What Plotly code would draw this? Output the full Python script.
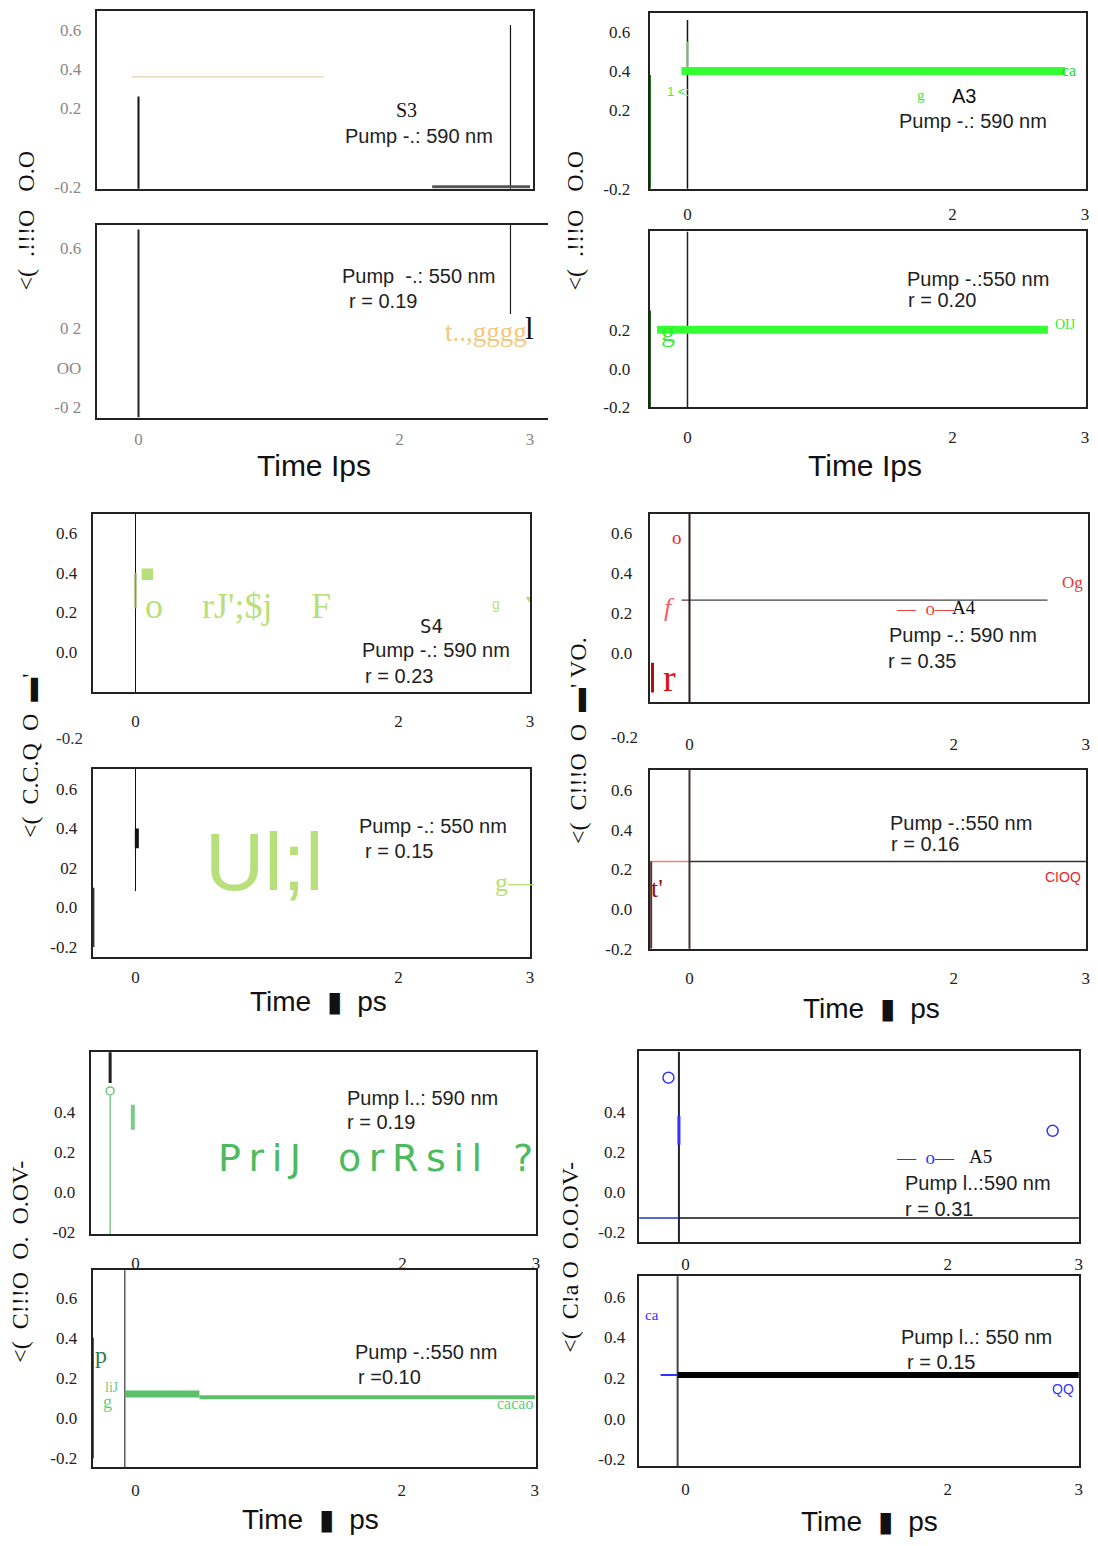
import plotly.graph_objects as go

W, H = 1098, 1546
SERIF = "Liberation Serif"
SANS = "Liberation Sans"

# ---------------- data ----------------
x_ticks = [0, 2, 3]
x_tick_labels = ["0", "2", "3"]

# panel 1 : S3, pump 590 nm
p1_zero_x = [0, 0];          p1_zero_y = [0.26, -0.25]
p1_right_x = [2.85, 2.85];   p1_right_y = [0.625, -0.26]
p1_tan_x = [-0.05, 1.42];    p1_tan_y = [0.36, 0.36]
p1_base_x = [2.25, 3.0];     p1_base_y = [-0.2, -0.2]
p1_yvals = [0.6, 0.4, 0.2, -0.2]; p1_ytext = ["0.6", "0.4", "0.2", "-0.2"]

# panel 2 : S3, pump 550 nm
p2_zero_x = [0, 0];          p2_zero_y = [0.695, -0.25]
p2_right_x = [2.85, 2.85];   p2_right_y = [0.72, 0.27]
p2_yvals = [0.6, 0.2, 0.0, -0.2]; p2_ytext = ["0.6", "0 2", "OO", "-0 2"]

# panel 3 : A3, pump 590 nm
p3_bar_x = [-0.045, 2.85];   p3_bar_y = [0.4, 0.4]
p3_zero_x = [0, 0];          p3_zero_y = [0.66, -0.25]
p3_gz_x = [0, 0];            p3_gz_y = [0.55, 0.42]
p3_left_x = [-0.283, -0.283]; p3_left_y = [0.38, -0.2]
p3_yvals = [0.6, 0.4, 0.2, -0.2]; p3_ytext = ["0.6", "0.4", "0.2", "-0.2"]

# panel 4 : A3, pump 550 nm
p4_bar_x = [-0.23, 2.72];    p4_bar_y = [0.2, 0.2]
p4_zero_x = [0, 0];          p4_zero_y = [0.708, -0.2]
p4_left_x = [-0.283, -0.283]; p4_left_y = [0.3, -0.2]
p4_yvals = [0.2, 0.0, -0.2]; p4_ytext = ["0.2", "0.0", "-0.2"]

# panel 5 : S4, pump 590 nm
p5_zero_x = [0, 0];          p5_zero_y = [0.70, -0.21]
p5_olive_x = [0, 0];         p5_olive_y = [0.40, 0.22]
p5_sq_x = [0.09];            p5_sq_y = [0.393]
p5_tri_x = [3.0];            p5_tri_y = [0.267]
p5_yvals = [0.6, 0.4, 0.2, 0.0]; p5_ytext = ["0.6", "0.4", "0.2", "0.0"]

# panel 6 : S4, pump 550 nm
p6_zero_x = [0, 0];          p6_zero_y = [0.70, 0.083]
p6_mark_x = [0.01, 0.01];    p6_mark_y = [0.40, 0.30]
p6_left_x = [-0.32, -0.32];  p6_left_y = [0.10, -0.2]
p6_yvals = [0.6, 0.4, 0.2, 0.0, -0.2]; p6_ytext = ["0.6", "0.4", "02", "0.0", "-0.2"]

# panel 7 : A4, pump 590 nm
p7_zero_x = [0, 0];          p7_zero_y = [0.70, -0.25]
p7_red_x = [-0.28, -0.28];   p7_red_y = [-0.05, -0.2]
p7_line_x = [-0.06, 2.71];   p7_line_y = [0.265, 0.265]
p7_yvals = [0.6, 0.4, 0.2, 0.0]; p7_ytext = ["0.6", "0.4", "0.2", "0.0"]

# panel 8 : A4, pump 550 nm
p8_pink_x = [-0.3, 0];       p8_pink_y = [0.24, 0.24]
p8_line_x = [0, 3.0];        p8_line_y = [0.24, 0.24]
p8_zero_x = [0, 0];          p8_zero_y = [0.70, -0.24]
p8_left_x = [-0.29, -0.29];  p8_left_y = [0.24, -0.2]
p8_yvals = [0.6, 0.4, 0.2, 0.0, -0.2]; p8_ytext = ["0.6", "0.4", "0.2", "0.0", "-0.2"]

# panel 9 : pump 590 nm (green)
p9_top_x = [-0.19, -0.19];   p9_top_y = [0.70, 0.544]
p9_circ_x = [-0.19];         p9_circ_y = [0.504]
p9_line_x = [-0.19, -0.19];  p9_line_y = [0.48, -0.25]
p9_short_x = [-0.02, -0.02]; p9_short_y = [0.435, 0.31]
p9_yvals = [0.4, 0.2, 0.0, -0.2]; p9_ytext = ["0.4", "0.2", "0.0", "-02"]

# panel 10 : pump 550 nm (green)
p10_a_x = [-0.08, 0.48];     p10_a_y = [0.12, 0.12]
p10_b_x = [0.48, 3.0];       p10_b_y = [0.105, 0.105]
p10_zero_x = [-0.08, -0.08]; p10_zero_y = [0.738, -0.244]
p10_left_x = [-0.32, -0.32]; p10_left_y = [0.40, -0.2]
p10_yvals = [0.6, 0.4, 0.2, 0.0, -0.2]; p10_ytext = ["0.6", "0.4", "0.2", "0.0", "-0.2"]

# panel 11 : A5, pump 590 nm
p11_circ_x = [-0.13, 2.80];  p11_circ_y = [0.57, 0.305]
p11_v_x = [-0.05, -0.05];    p11_v_y = [0.70, -0.25]
p11_bv_x = [-0.05, -0.05];   p11_bv_y = [0.38, 0.236]
p11_bh_x = [-0.353, -0.05];  p11_bh_y = [-0.13, -0.13]
p11_h_x = [-0.05, 3.0];      p11_h_y = [-0.13, -0.13]
p11_yvals = [0.4, 0.2, 0.0, -0.2]; p11_ytext = ["0.4", "0.2", "0.0", "-0.2"]

# panel 12 : A5, pump 550 nm
p12_line_x = [-0.06, 3.0];   p12_line_y = [0.215, 0.215]
p12_blue_x = [-0.19, -0.06]; p12_blue_y = [0.215, 0.215]
p12_zero_x = [-0.06, -0.06]; p12_zero_y = [0.70, -0.234]
p12_yvals = [0.6, 0.4, 0.2, 0.0, -0.2]; p12_ytext = ["0.6", "0.4", "0.2", "0.0", "-0.2"]

# ---------------- layout specs ----------------
# L, R, T, B (px), x0px, kx, yval, ypx, ky, showx, yvals, ytext, xstand, ystand, tickcolor, mirrorY
specs = [
    (97, 535, 11, 190, 139, 131, 0.6, 30, 197.5, False, p1_yvals, p1_ytext, 8, 10, "#888", True),
    (97, 550, 226, 421, 139, 131, 0.6, 250, 200, True, p2_yvals, p2_ytext, 4, 10, "#888", False),
    (652, 1090, 13, 190, 690, 133, 0.6, 32, 197.5, True, p3_yvals, p3_ytext, 9, 14, "#222", True),
    (652, 1090, 233, 410, 690, 133, 0.2, 332, 195, True, p4_yvals, p4_ytext, 13, 14, "#222", True),
    (93, 532, 517, 697, 136, 132, 0.6, 537, 198, True, p5_yvals, p5_ytext, 12, 10, "#222", True),
    (93, 532, 774, 963, 136, 132, 0.6, 794, 199, True, p6_yvals, p6_ytext, 4, 10, "#222", True),
    (652, 1092, 517, 707, 692, 132.6, 0.6, 537, 200, True, p7_yvals, p7_ytext, 25, 12, "#222", True),
    (652, 1090, 775, 955, 692, 132.6, 0.6, 795, 200, True, p8_yvals, p8_ytext, 13, 12, "#222", True),
    (91, 538, 1059, 1242, 136, 134, 0.4, 1119, 201.7, True, p9_yvals, p9_ytext, 13, 10, "#222", True),
    (93, 538, 1278, 1477, 136, 133.6, 0.6, 1306, 202.5, True, p10_yvals, p10_ytext, 6, 10, "#222", True),
    (641, 1083, 1058, 1250, 688, 131.6, 0.4, 1119, 201.7, True, p11_yvals, p11_ytext, 6, 8, "#222", True),
    (641, 1083, 1284, 1476, 688, 131.6, 0.6, 1305, 205, True, p12_yvals, p12_ytext, 6, 8, "#222", True),
]

fig = go.Figure()
layout = dict(width=W, height=H, margin=dict(l=0, r=0, t=0, b=0), autosize=False,
              paper_bgcolor="white", plot_bgcolor="white", showlegend=False)

for i, (L, R, T, B, x0, kx, yv, ypx, ky, showx, yvals, ytext, xs, ys, tc, my) in enumerate(specs, start=1):
    xr = [(L - x0) / kx, (R - x0) / kx]
    yr = [yv - (B - ypx) / ky, yv + (ypx - T) / ky]
    sfx = "" if i == 1 else str(i)
    layout["xaxis" + sfx] = dict(
        domain=[L / W, R / W], range=xr, anchor="y" + sfx, showgrid=False, zeroline=False,
        showline=True, linecolor="#222", linewidth=2, mirror=True,
        tickvals=x_ticks, ticktext=x_tick_labels, showticklabels=showx, ticks="",
        ticklabelstandoff=xs, tickfont=dict(family=SERIF, size=17, color=tc))
    layout["yaxis" + sfx] = dict(
        domain=[1 - B / H, 1 - T / H], range=yr, anchor="x" + sfx, showgrid=False, zeroline=False,
        showline=True, linecolor="#222", linewidth=2, mirror=my,
        tickvals=yvals, ticktext=ytext, ticks="", ticklabelstandoff=ys,
        tickfont=dict(family=SERIF, size=17, color=tc))

fig.update_layout(**layout)


def line(i, xs, ys, color, width):
    sfx = "" if i == 1 else str(i)
    fig.add_trace(go.Scatter(x=xs, y=ys, mode="lines", line=dict(color=color, width=width),
                             xaxis="x" + sfx, yaxis="y" + sfx, hoverinfo="skip"))


def pts(i, xs, ys, color, symbol, size):
    sfx = "" if i == 1 else str(i)
    fig.add_trace(go.Scatter(x=xs, y=ys, mode="markers",
                             marker=dict(color=color, symbol=symbol, size=size, line=dict(color=color, width=1.5)),
                             xaxis="x" + sfx, yaxis="y" + sfx, hoverinfo="skip"))


GREEN = "#33ff33"
LGREEN = "#b8e07a"
MGREEN = "#5cbf6a"
BLUE = "#3333ff"

line(1, p1_zero_x, p1_zero_y, "#111", 2)
line(1, p1_right_x, p1_right_y, "#111", 1.2)
line(1, p1_tan_x, p1_tan_y, "#d9c8a0", 1)
line(1, p1_base_x, p1_base_y, "#555", 3)

line(2, p2_zero_x, p2_zero_y, "#222", 2)
line(2, p2_right_x, p2_right_y, "#222", 1.2)

line(3, p3_zero_x, p3_zero_y, "#111", 1.5)
line(3, p3_gz_x, p3_gz_y, "#55cc55", 1.5)
line(3, p3_left_x, p3_left_y, "#1a7a1a", 2)
line(3, p3_bar_x, p3_bar_y, GREEN, 8)

line(4, p4_zero_x, p4_zero_y, "#222", 1.5)
line(4, p4_left_x, p4_left_y, "#1a6a1a", 2)
line(4, p4_bar_x, p4_bar_y, GREEN, 8)

line(5, p5_zero_x, p5_zero_y, "#111", 1)
line(5, p5_olive_x, p5_olive_y, "#8a9a40", 2)
pts(5, p5_sq_x, p5_sq_y, LGREEN, "square", 10)
pts(5, p5_tri_x, p5_tri_y, LGREEN, "triangle-down", 6)

line(6, p6_zero_x, p6_zero_y, "#111", 1)
line(6, p6_mark_x, p6_mark_y, "#111", 4)
line(6, p6_left_x, p6_left_y, "#333a33", 2)

line(7, p7_zero_x, p7_zero_y, "#2a1a1a", 2)
line(7, p7_red_x, p7_red_y, "#aa1111", 3)
line(7, p7_line_x, p7_line_y, "#111", 1)

line(8, p8_pink_x, p8_pink_y, "#f08080", 1.5)
line(8, p8_line_x, p8_line_y, "#333", 1.5)
line(8, p8_zero_x, p8_zero_y, "#443333", 2)
line(8, p8_left_x, p8_left_y, "#5a3030", 2)

line(9, p9_top_x, p9_top_y, "#222", 3)
line(9, p9_line_x, p9_line_y, "#7acc88", 1.5)
line(9, p9_short_x, p9_short_y, "#7acc88", 4)
pts(9, p9_circ_x, p9_circ_y, "#6acc7a", "circle-open", 8)

line(10, p10_zero_x, p10_zero_y, "#111", 1)
line(10, p10_left_x, p10_left_y, "#2e5a3a", 2)
line(10, p10_a_x, p10_a_y, MGREEN, 7)
line(10, p10_b_x, p10_b_y, MGREEN, 4)

line(11, p11_v_x, p11_v_y, "#223", 2)
line(11, p11_bv_x, p11_bv_y, BLUE, 3)
line(11, p11_bh_x, p11_bh_y, "#2233cc", 1.5)
line(11, p11_h_x, p11_h_y, "#111", 1.5)
pts(11, p11_circ_x, p11_circ_y, BLUE, "circle-open", 11)

line(12, p12_zero_x, p12_zero_y, "#444", 2)
line(12, p12_blue_x, p12_blue_y, BLUE, 2)
line(12, p12_line_x, p12_line_y, "#000", 6)

# ---------------- text ----------------
anns = []


def txt(px, py, text, size=20, color="#222", family=SANS, angle=0, xanchor="center"):
    anns.append(dict(x=px / W, y=1 - py / H, xref="paper", yref="paper", text=text, showarrow=False,
                     font=dict(size=size, color=color, family=family), textangle=angle,
                     xanchor=xanchor, yanchor="middle"))


TS = "\u2009"  # thin space

# panel 1-2
txt(408, 111, "S3", 20, "#111", SERIF)
txt(421, 137, "Pump -.: 590 nm")
txt(420, 278, "Pump  -.: 550 nm")
txt(384, 303, "r = 0.19")
txt(488, 334, "t..,gggg", 27, "#f5c77e", SERIF)
txt(531, 331, "l", 31, "#111", SERIF)
# panel 3-4
txt(680, 92, "1 <:", 13, "#44ee44")
txt(924, 96, "g", 15, "#33ee33", SERIF)
txt(968, 97, "A3", 20, "#111")
txt(977, 122, "Pump -.: 590 nm")
txt(1073, 71, "ca", 16, "#22dd22", SERIF)
txt(982, 281, "Pump -.:550 nm")
txt(945, 302, "r = 0.20")
txt(670, 334, "g", 28, "#33ee33", SERIF)
txt(1069, 327, "OIJ", 14, "#33ee33", SERIF)
# panel 5-6
txt(155, 610, "o", 36, LGREEN, SERIF)
txt(238, 610, "rJ';$j", 36, LGREEN, SERIF)
txt(322, 610, "F", 36, LGREEN, SERIF)
txt(498, 608, "g", 14, LGREEN)
txt(433, 630, "S4", 19, "#222", "DejaVu Sans Mono")
txt(438, 654, "Pump -.: 590 nm")
txt(400, 680, "r = 0.23")
txt(70, 743, "-0.2", 17, "#333", SERIF)
txt(265, 867, "Ul;l", 82, LGREEN)
txt(517, 888, "g—", 26, LGREEN, SERIF)
txt(435, 831, "Pump -.: 550 nm")
txt(400, 857, "r = 0.15")
# panel 7-8
txt(679, 541, "o", 19, "#ee2222", SERIF)
txt(672, 611, "<i>f</i>", 26, "#f06060", SERIF)
txt(672, 682, "r", 38, "#dd1111", SERIF)
txt(929, 612, "—  o—", 19, "#ee4444", SERIF)
txt(968, 611, "A4", 19, "#111", SERIF)
txt(1076, 586, "Og", 17, "#ee3333", SERIF)
txt(967, 639, "Pump -.: 590 nm")
txt(925, 665, "r = 0.35")
txt(627, 742, "-0.2", 17, "#222", SERIF)
txt(659, 894, "t'", 26, "#991111", SERIF)
txt(1067, 883, "CIOQ", 14, "#ee2222")
txt(965, 828, "Pump -.:550 nm")
txt(928, 849, "r = 0.16")
# panel 9-10
txt(260, 1166, TS.join("PriJ"), 38, "#4cbb5f", "DejaVu Sans")
txt(411, 1166, TS.join("orRsil"), 38, "#4cbb5f", "DejaVu Sans")
txt(525, 1166, "?", 38, "#4cbb5f", "DejaVu Sans")
txt(424, 1105, "Pump l..: 590 nm")
txt(382, 1129, "r = 0.19")
txt(101, 1364, "p", 24, "#2e7d3e", SERIF)
txt(112, 1397, "liJ", 14, "#6acc7a", SERIF)
txt(108, 1411, "g", 18, "#6acc7a", SERIF)
txt(517, 1413, "cacao", 16, "#6acc7a", SERIF)
txt(428, 1361, "Pump -.:550 nm")
txt(391, 1386, "r =0.10")
# panel 11-12
txt(929, 1165, "—  o—", 19, BLUE, SERIF)
txt(984, 1164, "A5", 19, "#111", SERIF)
txt(982, 1191, "Pump l..:590 nm")
txt(942, 1217, "r = 0.31")
txt(654, 1324, "ca", 15, BLUE, SERIF)
txt(1067, 1398, "QQ", 14, BLUE)
txt(980, 1346, "Pump l..: 550 nm")
txt(944, 1371, "r = 0.15")

# axis titles
txt(315, 469, "Time Ips", 30, "#111")
txt(868, 469, "Time Ips", 30, "#111")
txt(320, 1008, "Time  ▮  ps", 28, "#111")
txt(875, 1015, "Time  ▮  ps", 28, "#111")
txt(312, 1529, "Time  ▮  ps", 28, "#111")
txt(873, 1531, "Time  ▮  ps", 28, "#111")

# rotated y titles
txt(26, 222, "<(  .!!!O   O.O", 24, "#111", SERIF, -90)
txt(577, 222, "<(  .!!!O   O.O", 24, "#111", SERIF, -90)
txt(30, 760, "<(  C.C.Q  O  ▬'", 24, "#111", SERIF, -90)
txt(580, 745, "<(  C!!!O  O  ▬' VO.", 24, "#111", SERIF, -90)
txt(20, 1270, "<(  C!!!O  O.  O.OV-", 24, "#111", SERIF, -90)
txt(572, 1265, "<(  C!a O  O.O.OV-", 24, "#111", SERIF, -90)

fig.update_layout(annotations=anns)
fig.write_html("out.html")
